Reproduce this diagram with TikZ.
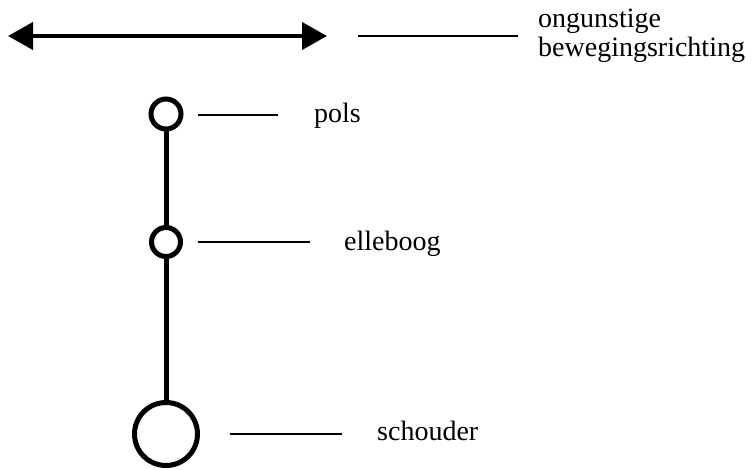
\documentclass[tikz,border=0pt]{standalone}
\usepackage{fontspec}
\setmainfont{Liberation Serif}
\usetikzlibrary{arrows.meta}
\begin{document}
\begin{tikzpicture}[x=1pt,y=-1pt,
  joint/.style={circle,draw=black,line width=5pt,fill=white,inner sep=0pt},
  leader/.style={draw=black,line width=1.3pt},
  lbl/.style={inner sep=0pt,anchor=base west,font=\fontsize{28}{29}\selectfont},
  limb/.style={draw=black,line width=5pt},
  bigtip/.tip={Triangle[length=25pt,width=27pt]}]
\useasboundingbox (0,0) rectangle (753,470);
% movement arrow
\coordinate (aL) at (8,36);
\coordinate (aR) at (327,36);
\draw[line width=4pt,bigtip-bigtip] (aL) -- (aR);
\coordinate (l0a) at (358,36);
\coordinate (l0b) at (518,36);
\draw[leader] (l0a) -- (l0b);
\node[lbl] (t0a) at (538,28) {ongunstige};
\node[lbl] (t0b) at (538,57) {bewegingsrichting};
% joints
\node[joint,minimum size=30pt] (p) at (166,114) {};
\node[joint,minimum size=29pt] (e) at (166,242) {};
\node[joint,minimum size=63pt] (s) at (166,434) {};
\draw[limb] (p.south) -- (e.north);
\draw[limb] (e.south) -- (s.north);
% leaders
\coordinate (l1a) at (198,115); \coordinate (l1b) at (278,115);
\draw[leader] (l1a) -- (l1b);
\node[lbl] (t1) at (314,123) {pols};
\coordinate (l2a) at (198,242); \coordinate (l2b) at (310,242);
\draw[leader] (l2a) -- (l2b);
\node[lbl] (t2) at (344,251) {elleboog};
\coordinate (l3a) at (230,434); \coordinate (l3b) at (342,434);
\draw[leader] (l3a) -- (l3b);
\node[lbl] (t3) at (377,441) {schouder};
\end{tikzpicture}
\end{document}
